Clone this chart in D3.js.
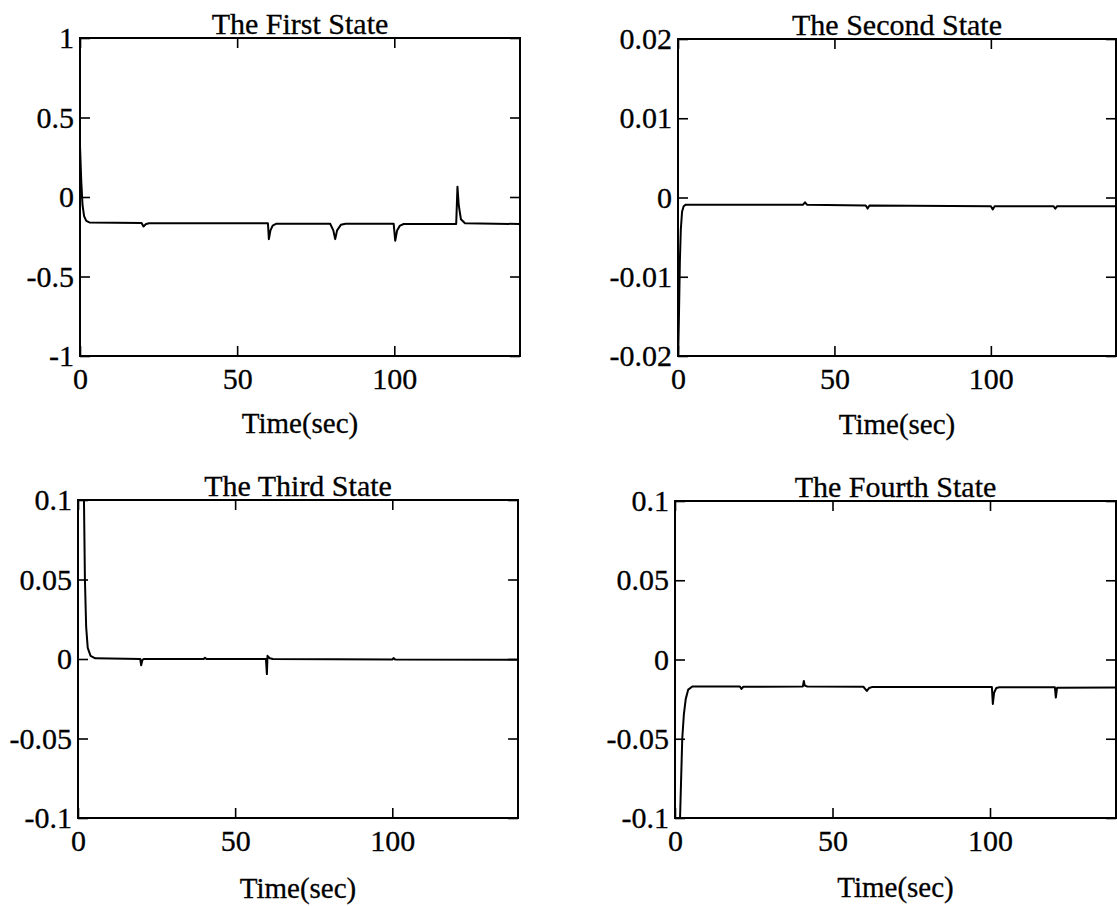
<!DOCTYPE html>
<html>
<head>
<meta charset="utf-8">
<script src="https://cdn.jsdelivr.net/npm/d3@7/dist/d3.min.js"></script>
<style>
  body { margin: 0; background: #fff; }
  svg text { font-family: "Liberation Serif", "Times New Roman", serif; font-size: 30px; fill: #000; stroke: #000; stroke-width: 0.3px; }
  svg text.xtitle { font-size: 29px; }
</style>
</head>
<body>
<svg id="chart" width="1117" height="906"></svg>
<script>
// values: [time (sec), state value]
const firstState = [
  [0, 0.32], [0.4, 0.1], [0.8, -0.05], [1.3, -0.12], [2, -0.15], [3, -0.16],
  [19.6, -0.163], [20.2, -0.185], [21, -0.17], [22, -0.165],
  [59.8, -0.165], [60.1, -0.265], [60.6, -0.21], [61.3, -0.18], [62.5, -0.168],
  [79.6, -0.168], [80.6, -0.21], [81.2, -0.265], [81.8, -0.21], [83, -0.175], [84.5, -0.168],
  [99.8, -0.168], [100.3, -0.275], [100.9, -0.21], [101.8, -0.18], [103, -0.17],
  [119.7, -0.17], [120.1, 0.065], [120.5, -0.05], [121.2, -0.14], [122.5, -0.165],
  [140, -0.17]
];
const secondState = [
  [0, -0.021], [0.3, -0.015], [0.6, -0.008], [0.9, -0.004], [1.3, -0.0018], [1.8, -0.0011], [2.5, -0.0009],
  [40, -0.0009], [40.6, -0.0006], [41.2, -0.0009],
  [60, -0.001], [60.6, -0.0014], [61.2, -0.001],
  [100, -0.0011], [100.6, -0.0015], [101.2, -0.0011],
  [120, -0.0011], [120.6, -0.0014], [121.2, -0.0011],
  [140, -0.0011]
];
const thirdState = [
  [0, 0.5], [1.6, 0.2], [1.9, 0.1], [2.2, 0.05], [2.6, 0.02], [3.1, 0.007], [4, 0.002], [5.5, 0.0004],
  [19.8, 0], [20.1, -0.004], [20.5, -0.0005], [21, 0],
  [40, 0], [40.4, 0.0008], [40.9, 0],
  [59.8, 0], [60.1, -0.0095], [60.3, 0.002], [61, 0.0005], [62, 0],
  [100, -0.0003], [100.4, 0.0006], [100.9, -0.0003],
  [140, -0.0005]
];
const fourthState = [
  [0, -0.3], [1.3, -0.12], [1.6, -0.1], [2.3, -0.05], [2.8, -0.035], [3.4, -0.025], [4.2, -0.019], [5.5, -0.017],
  [20.6, -0.017], [21.1, -0.0185], [21.7, -0.0172],
  [40.6, -0.017], [40.9, -0.0135], [41.2, -0.0165], [42, -0.017],
  [59.8, -0.0172], [60.9, -0.0198], [61.6, -0.018], [62.5, -0.0174],
  [100.6, -0.0174], [100.9, -0.028], [101.3, -0.021], [102, -0.018], [103, -0.0175],
  [120.6, -0.0175], [120.9, -0.024], [121.3, -0.0178],
  [140, -0.0176]
];

const timeDomain = [0, 140];
const timeTicks = [0, 50, 100];
const timeTickLabels = ['0', '50', '100'];

const firstTicks = [-1, -0.5, 0, 0.5, 1];
const firstTickLabels = ['-1', '-0.5', '0', '0.5', '1'];
const secondTicks = [-0.02, -0.01, 0, 0.01, 0.02];
const secondTickLabels = ['-0.02', '-0.01', '0', '0.01', '0.02'];
const smallTicks = [-0.1, -0.05, 0, 0.05, 0.1];
const smallTickLabels = ['-0.1', '-0.05', '0', '0.05', '0.1'];

const titles = ['The First State', 'The Second State', 'The Third State', 'The Fourth State'];
const xTitle = 'Time(sec)';

// panel boxes in page pixels
const panels = [
  { title: titles[0], data: firstState, yDomain: [-1, 1], yTicks: firstTicks, yLabels: firstTickLabels,
    left: 80, right: 520, top: 38, bottom: 356, xTitleDy: 77 },
  { title: titles[1], data: secondState, yDomain: [-0.02, 0.02], yTicks: secondTicks, yLabels: secondTickLabels,
    left: 678, right: 1116, top: 39, bottom: 356, xTitleDy: 78 },
  { title: titles[2], data: thirdState, yDomain: [-0.1, 0.1], yTicks: smallTicks, yLabels: smallTickLabels,
    left: 78, right: 518, top: 500, bottom: 818, xTitleDy: 80 },
  { title: titles[3], data: fourthState, yDomain: [-0.1, 0.1], yTicks: smallTicks, yLabels: smallTickLabels,
    left: 675, right: 1116, top: 501, bottom: 818, xTitleDy: 79 }
];

const svg = d3.select('#chart');
const tickLen = 10;

panels.forEach((p, i) => {
  const x = d3.scaleLinear().domain(timeDomain).range([p.left, p.right]);
  const y = d3.scaleLinear().domain(p.yDomain).range([p.bottom, p.top]);
  const g = svg.append('g').attr('class', 'panel');

  // clip the trace to the plot box
  g.append('clipPath').attr('id', `clip${i}`)
    .append('rect')
    .attr('x', p.left).attr('y', p.top)
    .attr('width', p.right - p.left).attr('height', p.bottom - p.top);

  // inward ticks on all four sides
  const yAxisL = d3.axisLeft(y).tickValues(p.yTicks).tickSize(-tickLen).tickSizeOuter(0).tickPadding(6)
    .tickFormat((d, k) => p.yLabels[k]);
  const yAxisR = d3.axisRight(y).tickValues(p.yTicks).tickSize(-tickLen).tickSizeOuter(0).tickFormat('');
  const xAxisB = d3.axisBottom(x).tickValues(timeTicks).tickSize(-tickLen).tickSizeOuter(0).tickPadding(12)
    .tickFormat((d, k) => timeTickLabels[k]);
  const xAxisT = d3.axisTop(x).tickValues(timeTicks).tickSize(-tickLen).tickSizeOuter(0).tickFormat('');

  const axes = [
    g.append('g').attr('transform', `translate(${p.left},0)`).call(yAxisL),
    g.append('g').attr('transform', `translate(${p.right},0)`).call(yAxisR),
    g.append('g').attr('transform', `translate(0,${p.bottom})`).call(xAxisB),
    g.append('g').attr('transform', `translate(0,${p.top})`).call(xAxisT)
  ];
  axes.forEach(a => {
    a.attr('font-family', null).attr('font-size', null);
    a.select('.domain').remove();
    a.selectAll('.tick line').attr('stroke', '#000').attr('stroke-width', 1.6);
    a.selectAll('.tick text').attr('fill', '#000');
  });

  // trace
  const line = d3.line().x(d => x(d[0])).y(d => y(d[1]));
  g.append('path')
    .datum(p.data)
    .attr('clip-path', `url(#clip${i})`)
    .attr('d', line)
    .attr('fill', 'none')
    .attr('stroke', '#000')
    .attr('stroke-width', 2)
    .attr('stroke-linejoin', 'round');

  // frame
  g.append('rect')
    .attr('x', p.left).attr('y', p.top)
    .attr('width', p.right - p.left).attr('height', p.bottom - p.top)
    .attr('fill', 'none').attr('stroke', '#000').attr('stroke-width', 2);

  // title and x label
  const cx = (p.left + p.right) / 2;
  g.append('text').attr('x', cx).attr('y', p.top - 4)
    .attr('text-anchor', 'middle').text(p.title);
  g.append('text').attr('class', 'xtitle').attr('x', cx).attr('y', p.bottom + p.xTitleDy)
    .attr('text-anchor', 'middle').text(xTitle);
});
</script>
</body>
</html>
